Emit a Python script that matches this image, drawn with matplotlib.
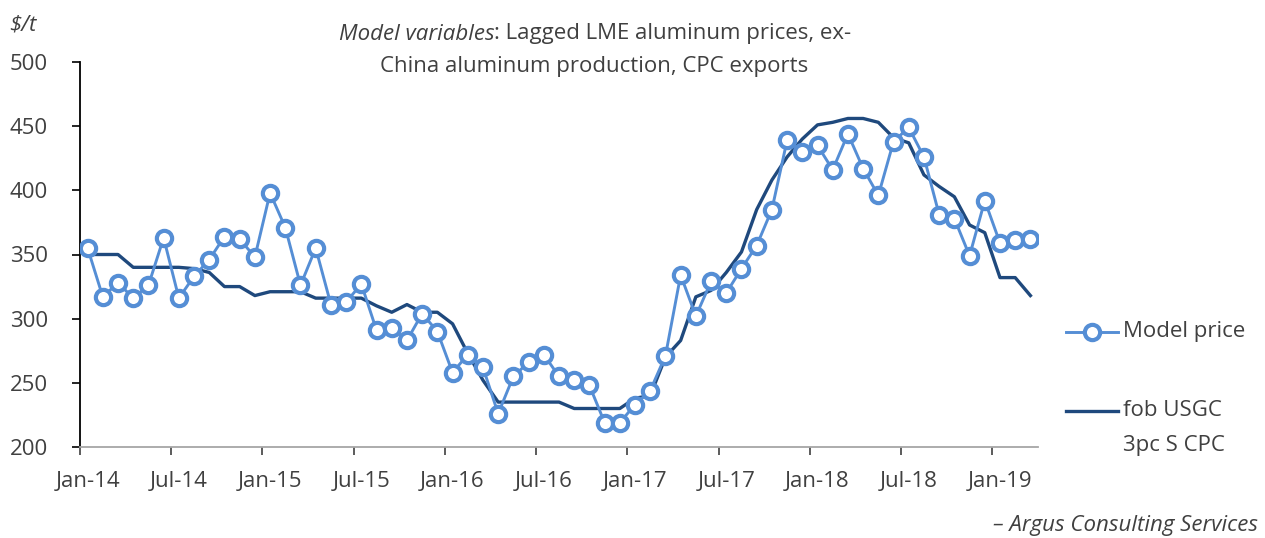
import matplotlib.pyplot as plt
from matplotlib.lines import Line2D
import pandas as pd

# monthly series, Jan-14 .. Mar-19
months = pd.date_range('2014-01-01', '2019-03-01', freq='MS')
month_labels = [d.strftime('%b-%y') for d in months]

model_price = [355, 317, 328, 316, 326, 363, 316, 333, 346, 364, 362, 348,
               398, 371, 326, 355, 311, 313, 327, 291, 293, 283, 304, 290,
               258, 272, 262, 226, 255, 266, 272, 255, 252, 248, 219, 219,
               233, 244, 271, 334, 302, 329, 320, 339, 357, 385, 439, 430,
               435, 416, 444, 417, 396, 438, 449, 426, 381, 378, 349, 392,
               359, 361, 362]
fob_usgc = [350, 350, 350, 340, 340, 340, 340, 339, 336, 325, 325, 318,
            321, 321, 321, 316, 316, 316, 316, 310, 305, 311, 305, 305,
            296, 273, 252, 235, 235, 235, 235, 235, 230, 230, 230, 230,
            238, 240, 270, 283, 317, 322, 336, 352, 385, 408, 426, 440,
            451, 453, 456, 456, 453, 441, 437, 412, 403, 395, 373, 367,
            332, 332, 318]

y_ticks = [200, 250, 300, 350, 400, 450, 500]

light_blue = '#558ed5'
navy = '#1f497d'
txt = '#404040'
fs = 16

plt.rcParams['font.family'] = ['Open Sans', 'DejaVu Sans']

W, H = 1265, 538
fig = plt.figure(figsize=(W / 100, H / 100), dpi=100)
ax = fig.add_axes([80 / W, (H - 447) / H, 958 / W, 385 / H])

x = list(range(len(months)))
ax.plot(x, fob_usgc, color=navy, lw=2.4, solid_joinstyle='round', zorder=2)
ax.plot(x, model_price, color=light_blue, lw=2.1, marker='o', ms=11,
        mfc='white', mec=light_blue, mew=3.0, zorder=3)

ax.set_xlim(-0.5, len(months) - 0.5)
ax.set_ylim(200, 500)
ax.set_yticks(y_ticks)
ax.set_yticklabels([str(v) for v in y_ticks], color=txt, fontsize=fs)

label_pos = list(range(0, len(months), 6))
ax.set_xticks([p - 0.5 for p in label_pos])
ax.set_xticklabels([])
ax.set_xticks(label_pos, minor=True)
ax.set_xticklabels([month_labels[p] for p in label_pos], minor=True,
                   color=txt, fontsize=fs)
ax.tick_params(axis='x', which='major', length=6, width=1.2, color='#404040')
ax.tick_params(axis='x', which='minor', length=0, pad=17)
ax.tick_params(axis='y', length=6, width=1.2, color='black', pad=17)

for s in ['top', 'right']:
    ax.spines[s].set_visible(False)
ax.spines['left'].set_color('black')
ax.spines['left'].set_linewidth(1.3)
ax.spines['bottom'].set_color('#a6a6a6')
ax.spines['bottom'].set_linewidth(1.3)

# title, first part italic
fig.canvas.draw()
r = fig.canvas.get_renderer()
part1 = fig.text(0, 1 - 34 / H, 'Model variables', style='italic', fontsize=fs,
                 color=txt, va='center')
part2 = fig.text(0, 1 - 34 / H, ': Lagged LME aluminum prices, ex-', fontsize=fs,
                 color=txt, va='center')
w1 = part1.get_window_extent(r).width
w2 = part2.get_window_extent(r).width
x0 = 595 - (w1 + w2) / 2
part1.set_x(x0 / W)
part2.set_x((x0 + w1) / W)
fig.text(594 / W, 1 - 66 / H, 'China aluminum production, CPC exports',
         fontsize=fs, color=txt, ha='center', va='center')

fig.text(9 / W, 1 - 25 / H, '$/t', style='italic', fontsize=fs, color=txt,
         va='center')

# legend
fig.add_artist(Line2D([1066 / W, 1118 / W], [1 - 332 / H] * 2, color=light_blue,
                      lw=2.1, transform=fig.transFigure))
fig.add_artist(Line2D([1092 / W], [1 - 332 / H], marker='o', ms=11, mfc='white',
                      mec=light_blue, mew=3.0, transform=fig.transFigure))
fig.text(1123 / W, 1 - 332 / H, 'Model price', fontsize=fs, color=txt, va='center')
fig.add_artist(Line2D([1066 / W, 1118 / W], [1 - 411 / H] * 2, color=navy,
                      lw=2.4, transform=fig.transFigure))
fig.text(1123 / W, 1 - 411 / H, 'fob USGC', fontsize=fs, color=txt, va='center')
fig.text(1123 / W, 1 - 445 / H, '3pc S CPC', fontsize=fs, color=txt, va='center')

fig.text(1258 / W, 1 - 525 / H, '– Argus Consulting Services', style='italic',
         fontsize=fs, color=txt, ha='right', va='center')

fig.savefig('out.png', dpi=100)
